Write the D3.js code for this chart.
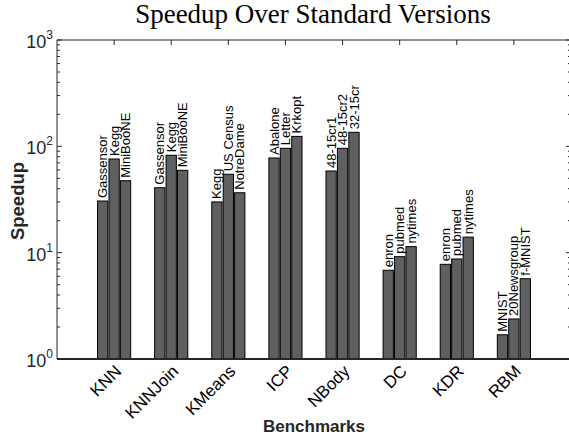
<!DOCTYPE html>
<html>
<head>
<meta charset="utf-8">
<script src="https://cdn.jsdelivr.net/npm/d3@7"></script>
<style>
  html, body { margin: 0; padding: 0; background: #fff; }
  svg { display: block; }
  text { font-family: "Liberation Sans", Arial, Helvetica, sans-serif; fill: #262626; }
</style>
</head>
<body>
<svg id="chart" width="569" height="441"></svg>
<script>
// Benchmarks and the three datasets run for each one
const benchmarks = ["KNN", "KNNJoin", "KMeans", "ICP", "NBody", "DC", "KDR", "RBM"];
const datasets = [
  ["Gassensor", "Kegg", "MiniBooNE"],
  ["Gassensor", "Kegg", "MiniBooNE"],
  ["Kegg", "US Census", "NotreDame"],
  ["Abalone", "Letter", "Krkopt"],
  ["48-15cr1", "48-15cr2", "32-15cr"],
  ["enron", "pubmed", "nytimes"],
  ["enron", "pubmed", "nytimes"],
  ["MNIST", "20Newsgroup", "f-MNIST"]
];
// Speedup of each dataset, one row per benchmark
const speedups = [
  [30.6, 76.0, 47.5],
  [40.8, 82.4, 59.5],
  [30.0, 54.6, 36.6],
  [77.7, 95.8, 124],
  [58.6, 95.8, 135.5],
  [6.83, 9.17, 11.4],
  [7.77, 8.72, 14.0],
  [1.69, 2.38, 5.69]
];
const yTickExponents = [0, 1, 2, 3];

const svg = d3.select("#chart");
const plotL = 57, plotR = 571, plotT = 40, plotB = 359;

const x = d3.scaleLinear().domain([0, benchmarks.length + 1]).range([plotL, plotR]);
const y = d3.scaleLog().domain([1, 1000]).range([plotB, plotT]);

const axisColor = "#262626";
const offset = 0.2, barW = 0.18;

// bars
const bars = [];
speedups.forEach((row, i) => row.forEach((v, j) => bars.push({
  g: i, j, v, name: datasets[i][j]
})));

svg.append("g").selectAll("rect").data(bars).join("rect")
  .attr("x", d => x(d.g + 1 + (d.j - 1) * offset - barW / 2))
  .attr("width", d => x(barW) - x(0))
  .attr("y", d => y(d.v))
  .attr("height", d => y(1) - y(d.v))
  .attr("fill", "#606060")
  .attr("stroke", "#000")
  .attr("stroke-width", 1);

// dataset labels above bars
svg.append("g").selectAll("text").data(bars).join("text")
  .attr("transform", d => `translate(${x(d.g + 1 + (d.j - 1) * offset)},${y(d.v) - 3}) rotate(-90)`)
  .attr("dy", "0.35em")
  .attr("text-anchor", "start")
  .style("font-size", "13px")
  .style("fill", "#000")
  .text(d => d.name);

// axes box
const frame = svg.append("g").attr("stroke", axisColor).attr("fill", "none");
frame.append("line").attr("x1", plotL).attr("x2", plotR).attr("y1", plotT).attr("y2", plotT).attr("stroke-width", 1);
frame.append("line").attr("x1", plotL).attr("x2", plotL).attr("y1", plotT).attr("y2", plotB).attr("stroke-width", 1);
frame.append("line").attr("x1", plotR).attr("x2", plotR).attr("y1", plotT).attr("y2", plotB).attr("stroke-width", 1);
frame.append("line").attr("x1", plotL).attr("x2", plotR).attr("y1", plotB).attr("y2", plotB).attr("stroke-width", 2);

// y ticks (major and minor, both sides, pointing inward)
y.ticks().forEach(t => {
  const major = Math.abs(Math.log10(t) - Math.round(Math.log10(t))) < 1e-9;
  const len = major ? 5 : 3;
  frame.append("line").attr("x1", plotL).attr("x2", plotL + len)
    .attr("y1", y(t)).attr("y2", y(t)).attr("stroke-width", 1);
  frame.append("line").attr("x1", plotR).attr("x2", plotR - len)
    .attr("y1", y(t)).attr("y2", y(t)).attr("stroke-width", 1);
});

// x ticks on top edge
benchmarks.forEach((b, i) => {
  frame.append("line").attr("x1", x(i + 1)).attr("x2", x(i + 1))
    .attr("y1", plotT).attr("y2", plotT + 5).attr("stroke-width", 1);
});

// y tick labels as powers of ten
const yLabels = svg.append("g");
yTickExponents.forEach(e => {
  const t = yLabels.append("text")
    .attr("x", 53).attr("y", y(Math.pow(10, e)) + 8)
    .attr("text-anchor", "end")
    .style("font-size", "18px");
  t.append("tspan").text("10");
  t.append("tspan").attr("dy", -9).style("font-size", "12px").text(String(e));
});

// benchmark names, rotated
svg.append("g").selectAll("text").data(benchmarks).join("text")
  .attr("transform", (d, i) => `translate(${x(i + 1) + 4},${plotB + 9}) rotate(-45)`)
  .attr("dy", "0.35em")
  .attr("text-anchor", "end")
  .style("font-size", "17px")
  .style("fill", "#000")
  .text(d => d);

// axis titles
svg.append("text")
  .attr("x", 314).attr("y", 432)
  .attr("text-anchor", "middle")
  .style("font-size", "17px").style("font-weight", "bold")
  .text("Benchmarks");

svg.append("text")
  .attr("transform", "translate(24,201) rotate(-90)")
  .attr("text-anchor", "middle")
  .style("font-size", "18.5px").style("font-weight", "bold")
  .text("Speedup");

svg.append("text")
  .attr("x", 313).attr("y", 23)
  .attr("text-anchor", "middle")
  .style("font-family", "'Liberation Serif', 'Times New Roman', serif")
  .style("font-size", "27px").style("fill", "#000")
  .text("Speedup Over Standard Versions");
</script>
</body>
</html>
